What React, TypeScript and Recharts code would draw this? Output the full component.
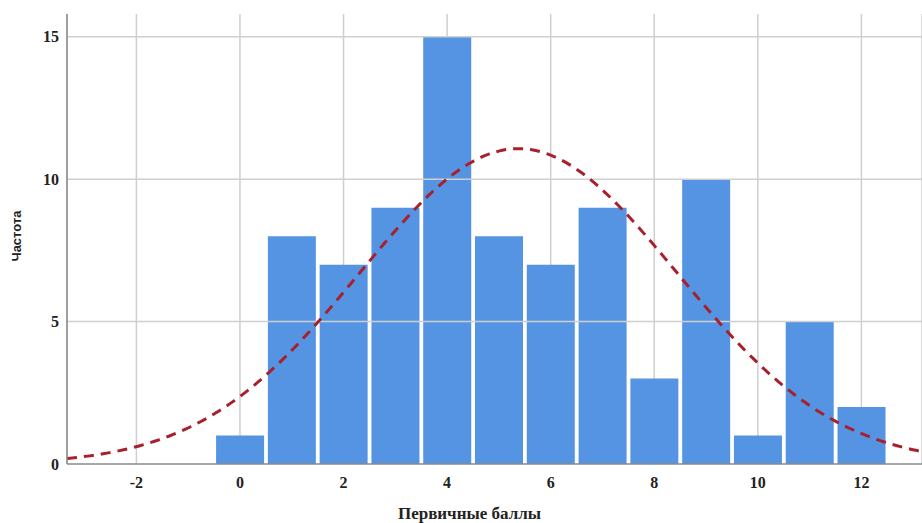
import React from "react";
import {
  ComposedChart,
  Bar,
  Line,
  XAxis,
  YAxis,
  CartesianGrid,
  ReferenceLine,
  Label,
} from "recharts";

// частоты по первичным баллам
const scores = [0, 1, 2, 3, 4, 5, 6, 7, 8, 9, 10, 11, 12];
const counts = [1, 8, 7, 9, 15, 8, 7, 9, 3, 10, 1, 5, 2];
const xTicks = [-2, 0, 2, 4, 6, 8, 10, 12];
const yTicks = [0, 5, 10, 15];
const xDomain = [-3.34, 13.17];
const yDomain = [0, 15.8];

const bins = scores.map((s, i) => ({ score: s, count: counts[i] }));

// нормальная кривая по среднему и ст. отклонению выборки
const n = counts.reduce((a, b) => a + b, 0);
const mean = scores.reduce((acc, s, i) => acc + s * counts[i], 0) / n;
const sd = Math.sqrt(
  scores.reduce((acc, s, i) => acc + counts[i] * (s - mean) ** 2, 0) / (n - 1)
);
const curve: { score: number; normal: number }[] = [];
for (let k = 0; k <= 166; k++) {
  const x = xDomain[0] + (k * (xDomain[1] - xDomain[0])) / 166;
  curve.push({
    score: x,
    normal:
      (n / (sd * Math.sqrt(2 * Math.PI))) *
      Math.exp(-((x - mean) ** 2) / (2 * sd * sd)),
  });
}

const tickStyle = {
  fill: "#222",
  fontSize: 16,
  fontWeight: 700,
  fontFamily: "'Liberation Serif', serif",
};

export default function App() {
  return (
    <div style={{ position: "absolute", left: 0, top: 0, background: "#fff" }}>
      <ComposedChart
        width={922}
        height={523}
        data={bins}
        margin={{ top: 14, right: 0, bottom: 0, left: 0 }}
      >
        <CartesianGrid stroke="#cfcfcf" strokeWidth={1.5} horizontal={false} />
        {yTicks.slice(1).map((t) => (
          <ReferenceLine key={t} y={t} stroke="#cfcfcf" strokeWidth={1.5} />
        ))}
        <XAxis
          xAxisId="bins"
          dataKey="score"
          type="number"
          domain={xDomain}
          allowDataOverflow
          hide
        />
        <XAxis
          dataKey="score"
          type="number"
          domain={xDomain}
          allowDataOverflow
          ticks={xTicks}
          interval={0}
          height={59}
          axisLine={{ stroke: "#8a8a8a", strokeWidth: 1.5 }}
          tickLine={false}
          tickMargin={7}
          tick={tickStyle}
        >
          <Label
            value="Первичные баллы"
            position="insideBottom"
            offset={4}
            dx={-25}
            style={{
              fill: "#222",
              fontSize: 17,
              fontWeight: 700,
              fontFamily: "'Liberation Serif', serif",
            }}
          />
        </XAxis>
        <YAxis
          type="number"
          domain={yDomain}
          allowDataOverflow
          ticks={yTicks}
          width={67}
          axisLine={{ stroke: "#8a8a8a", strokeWidth: 1.5 }}
          tickLine={false}
          tick={tickStyle}
        >
          <Label
            value="Частота"
            angle={-90}
            position="insideLeft"
            offset={16}
            dy={-3}
            style={{
              fill: "#222",
              fontSize: 13,
              fontWeight: 700,
              fontFamily: "'Liberation Sans', Arial, sans-serif",
              textAnchor: "middle",
            }}
          />
        </YAxis>
        <Bar
          xAxisId="bins"
          dataKey="count"
          fill="#5594e3"
          barSize={48}
          isAnimationActive={false}
        />
        <Line
          data={curve}
          dataKey="normal"
          type="monotone"
          stroke="#a8202c"
          strokeWidth={3}
          strokeDasharray="10 7"
          dot={false}
          activeDot={false}
          isAnimationActive={false}
        />
      </ComposedChart>
    </div>
  );
}
